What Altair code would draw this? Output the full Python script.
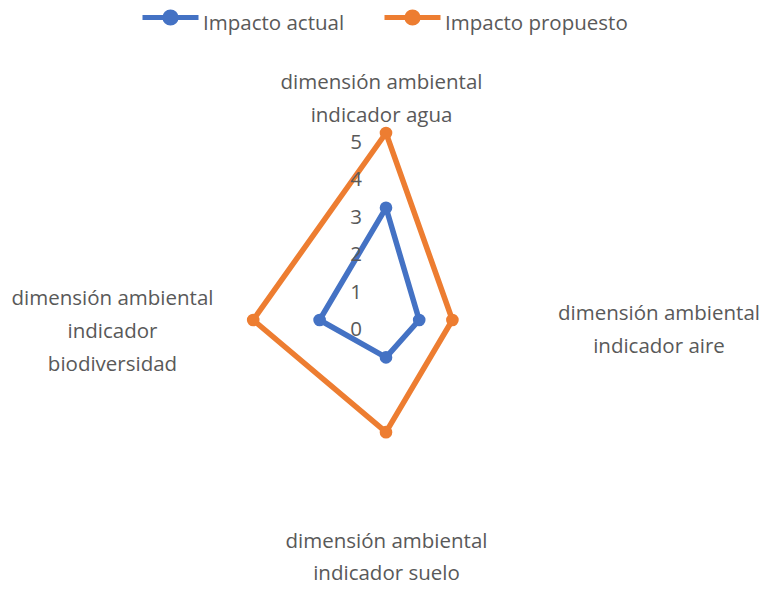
import math
import altair as alt
import pandas as pd

# ---- data ----
categorias = [
    "dimensión ambiental\nindicador agua",
    "dimensión ambiental\nindicador aire",
    "dimensión ambiental\nindicador suelo",
    "dimensión ambiental\nindicador\nbiodiversidad",
]
impacto_actual = [3, 1, 1, 2]
impacto_propuesto = [5, 2, 3, 4]
series = ["Impacto actual", "Impacto propuesto"]
ticks = [0, 1, 2, 3, 4, 5]
colores = ["#4472C4", "#ED7D31"]
max_val = 5

FONT = "Open Sans"
FS = 20.5
GRAY = "#595959"

# ---- build tables ----
rows = []
for nombre, valores in zip(series, [impacto_actual, impacto_propuesto]):
    n = len(valores)
    for i in range(n + 1):
        k = i % n
        ang = 2 * math.pi * k / n
        v = valores[k]
        rows.append({"serie": nombre, "orden": i, "categoria": categorias[k],
                     "valor": v, "x": v * math.sin(ang), "y": v * math.cos(ang)})
df = pd.DataFrame(rows)
df_pts = df[df["orden"] < len(categorias)]

df_ticks = pd.DataFrame({"valor": ticks, "cero": [0] * len(ticks)})

# ---- scales (center of the radar, pixels per unit on each axis) ----
W, H = 752, 576
cx, cy = 378, 312
hx, hy = 33.2, 37.4
xs = alt.Scale(domain=[-cx / hx, (W - cx) / hx], zero=False, nice=False)
ys = alt.Scale(domain=[-(H - cy) / hy, cy / hy], zero=False, nice=False)

legend = alt.Legend(
    title=None, orient="none", legendX=132, legendY=-14.5, direction="horizontal",
    symbolType="M-1,-0.232L1,-0.232M-0.2,-0.232a0.2,0.2 0 1,0 0.4,0a0.2,0.2 0 1,0 -0.4,0",
    symbolSize=3136, symbolStrokeWidth=5, labelFont=FONT, labelFontSize=FS,
    labelColor=GRAY, labelOffset=2, columnPadding=29, labelLimit=400,
)
color = alt.Color("serie:N", scale=alt.Scale(domain=series, range=colores), legend=legend)

lines = alt.Chart(df).mark_line(strokeWidth=5.5, strokeJoin="round").encode(
    x=alt.X("x:Q", scale=xs, axis=None),
    y=alt.Y("y:Q", scale=ys, axis=None),
    color=color,
    order="orden:Q",
)
points = alt.Chart(df_pts).mark_point(filled=True, size=160, opacity=1).encode(
    x=alt.X("x:Q", scale=xs, axis=None),
    y=alt.Y("y:Q", scale=ys, axis=None),
    color=color,
)

tick_text = alt.Chart(df_ticks).mark_text(
    align="right", baseline="middle", dx=-24, dy=10, font=FONT, fontSize=FS, color=GRAY
).encode(
    x=alt.X("cero:Q", scale=xs, axis=None),
    y=alt.Y("valor:Q", scale=ys, axis=None),
    text=alt.Text("valor:Q"),
)

# category labels placed just outside the end of each spoke
offsets = [(-4.5, -44, 33), (107, 0, 33), (0.5, 41, 32), (-107.5, -15, 33)]
label_layers = []
n = len(categorias)
for k, (cat, (ddx, ddy, lh)) in enumerate(zip(categorias, offsets)):
    ang = 2 * math.pi * k / n
    d = pd.DataFrame({"label": [cat], "x": [max_val * math.sin(ang)], "y": [max_val * math.cos(ang)]})
    label_layers.append(
        alt.Chart(d).mark_text(
            align="center", baseline="alphabetic", dx=ddx, dy=ddy, lineBreak="\n",
            lineHeight=lh, font=FONT, fontSize=FS, color=GRAY
        ).encode(
            x=alt.X("x:Q", scale=xs, axis=None),
            y=alt.Y("y:Q", scale=ys, axis=None),
            text="label:N",
        )
    )

chart = alt.layer(lines, points, tick_text, *label_layers).properties(
    width=W, height=H, padding=0, autosize=alt.AutoSizeParams(type="none")
).configure_view(stroke=None)

chart.save("out.html", embed_options={"renderer": "svg", "actions": False})
